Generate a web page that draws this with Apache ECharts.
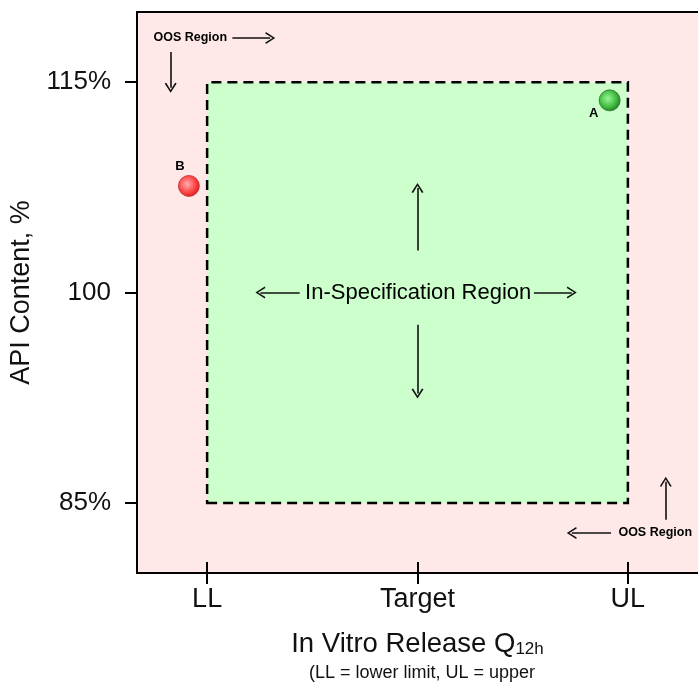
<!DOCTYPE html>
<html>
<head>
<meta charset="utf-8">
<script src="https://cdn.jsdelivr.net/npm/echarts@6/dist/echarts.min.js"></script>
<style>html,body{margin:0;padding:0;background:#fff;}#c{width:698px;height:682px;}</style>
</head>
<body>
<div id="c"></div>
<script>
// ---- data ----
const xMin = 80, xMax = 120, yMin = 80, yMax = 120;
const xTickValues = [85, 100, 115];
const xTickLabels = ['LL', 'Target', 'UL'];
const yTickValues = [85, 100, 115];
const yTickLabels = ['85%', '100', '115%'];
const pointNames = ['A', 'B'];
const pointX = [113.7, 83.7];
const pointY = [113.7, 107.6];
const specLow = [85, 85];   // [x, y]
const specHigh = [115, 115];
const noteTexts = ['OOS Region', 'In-Specification Region', 'OOS Region'];
const noteX = [83.8, 100.05, 116.95];
const noteY = [118.15, 100, 82.85];
const arrowFrom = [[86.8, 118.15], [82.4, 117.15], [100, 103.0], [100, 97.7], [91.6, 100], [108.3, 100], [117.7, 83.8], [113.8, 82.85]];
const arrowTo   = [[89.5, 118.15], [82.4, 114.6], [100, 107.45], [100, 92.8], [88.8, 100], [111.0, 100], [117.7, 86.5], [111.0, 82.85]];

const FONT = "'Liberation Sans', Arial, sans-serif";
const TXT = '#111';
const chevron = 'path://M0,10 L5,0 L10,10 L8.7,10.7 L5,2.8 L1.3,10.7 Z';

const chart = echarts.init(document.getElementById('c'));
const yLabelMap = {}; yTickValues.forEach((v, i) => yLabelMap[v] = yTickLabels[i]);
const xLabelMap = {}; xTickValues.forEach((v, i) => xLabelMap[v] = xTickLabels[i]);

chart.setOption({
  animation: false,
  backgroundColor: '#ffffff',
  textStyle: { fontFamily: FONT },
  title: {
    text: '(LL = lower limit, UL = upper',
    left: 417, top: 659, textAlign: 'center',
    textStyle: { fontSize: 18, fontWeight: 'normal', color: TXT, fontFamily: FONT }
  },
  grid: {
    left: 137, top: 12, width: 562, height: 561,
    show: true, backgroundColor: '#ffe8e8', borderWidth: 0
  },
  xAxis: [
    {
      type: 'value', min: xMin, max: xMax, position: 'bottom',
      splitLine: { show: false },
      axisLine: { show: true, onZero: false, lineStyle: { color: '#000', width: 2 } },
      axisTick: { show: true, customValues: xTickValues, length: 11, lineStyle: { color: '#000', width: 2 } },
      axisLabel: { customValues: xTickValues, formatter: v => xLabelMap[v] || '', margin: 13,
        fontSize: 27, color: TXT, fontFamily: FONT },
      name: '{m|In Vitro Release Q}{s|12h}',
      nameLocation: 'middle', nameGap: 53,
      nameTextStyle: { rich: {
        m: { fontSize: 27.5, color: TXT, fontFamily: FONT, lineHeight: 32, verticalAlign: 'bottom' },
        s: { fontSize: 17, color: TXT, fontFamily: FONT, lineHeight: 15, verticalAlign: 'bottom' }
      } }
    },
    {
      type: 'value', min: xMin, max: xMax, position: 'bottom',
      splitLine: { show: false },
      axisLine: { show: false, onZero: false },
      axisTick: { show: true, inside: true, customValues: xTickValues, length: 11, lineStyle: { color: '#000', width: 2 } },
      axisLabel: { show: false }
    },
    {
      type: 'value', min: xMin, max: xMax, position: 'top',
      splitLine: { show: false },
      axisLine: { show: true, onZero: false, lineStyle: { color: '#000', width: 2 } },
      axisTick: { show: false }, axisLabel: { show: false }
    }
  ],
  yAxis: {
    type: 'value', min: yMin, max: yMax,
    splitLine: { show: false },
    axisLine: { show: true, onZero: false, lineStyle: { color: '#000', width: 2 } },
    axisTick: { show: true, customValues: yTickValues, length: 12, lineStyle: { color: '#000', width: 2 } },
    axisLabel: { customValues: yTickValues, formatter: v => yLabelMap[v] || '', margin: 26,
      fontSize: 26, color: TXT, fontFamily: FONT },
    name: 'API Content, %', nameLocation: 'middle', nameGap: 96,
    nameTextStyle: { fontSize: 27, color: TXT, fontFamily: FONT }
  },
  series: [
    {
      type: 'scatter', name: 'regions', data: [], xAxisIndex: 0,
      markArea: {
        silent: true,
        itemStyle: { color: '#ccffcc', opacity: 1, borderColor: '#000', borderWidth: 2.5, borderType: [10, 6] },
        data: [[{ coord: [specLow[0], specLow[1]] }, { coord: [specHigh[0], specHigh[1]] }]]
      },
      markLine: {
        silent: true, animation: false,
        symbol: ['none', chevron], symbolSize: [12, 10],
        lineStyle: { color: '#111', width: 1.6, type: 'solid', opacity: 1 },
        itemStyle: { opacity: 1 },
        label: { show: false },
        data: arrowFrom.map((p, i) => [{ coord: p }, { coord: arrowTo[i] }])
      }
    },
    {
      type: 'scatter', name: 'notes', xAxisIndex: 0, silent: true,
      symbolSize: 1, itemStyle: { color: 'rgba(0,0,0,0)', opacity: 1 },
      data: noteTexts.map((t, i) => ({
        value: [noteX[i], noteY[i]],
        label: {
          show: true, position: 'inside', formatter: t, color: '#000', fontFamily: FONT,
          textBorderWidth: 0, textBorderColor: 'transparent',
          fontSize: i === 1 ? 22 : 12.5, fontWeight: i === 1 ? 'normal' : 'bold'
        }
      }))
    },
    {
      type: 'scatter', name: 'products', xAxisIndex: 0, symbolSize: 21,
      itemStyle: { opacity: 1 },
      data: pointNames.map((n, i) => ({
        name: n, value: [pointX[i], pointY[i]],
        itemStyle: {
          opacity: 1,
          color: {
            type: 'radial', x: 0.42, y: 0.42, r: 0.6,
            colorStops: i === 0
              ? [{ offset: 0, color: '#9af59a' }, { offset: 0.6, color: '#45c245' }, { offset: 1, color: '#237f23' }]
              : [{ offset: 0, color: '#ffb0b0' }, { offset: 0.6, color: '#ff4a4a' }, { offset: 1, color: '#d42020' }]
          },
          borderColor: i === 0 ? '#2a6e2a' : '#c83030', borderWidth: 0.8
        },
        label: {
          show: true, position: 'inside', formatter: n,
          offset: i === 0 ? [-16, 13] : [-9, -19],
          textBorderWidth: 0, textBorderColor: 'transparent',
          fontSize: 13, fontWeight: 'bold', color: '#000', fontFamily: FONT
        }
      }))
    }
  ]
});
</script>
</body>
</html>
